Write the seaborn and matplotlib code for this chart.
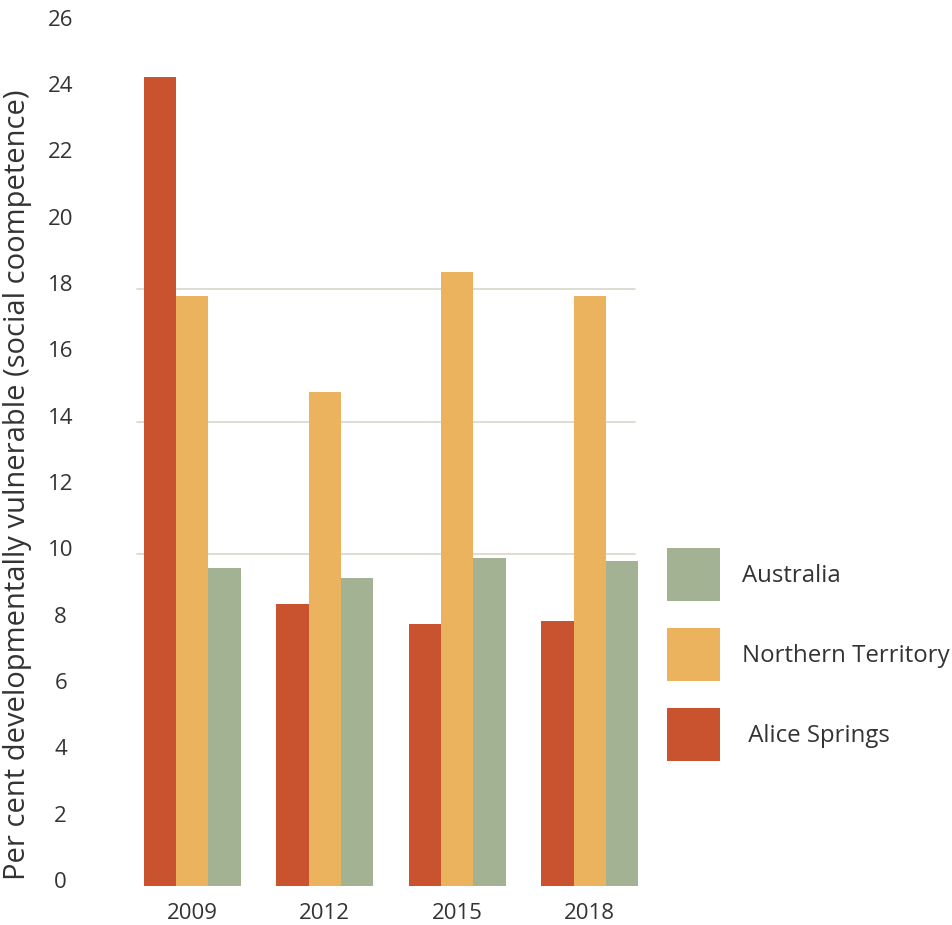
import matplotlib
matplotlib.use("Agg")
import matplotlib.pyplot as plt
import matplotlib.transforms as mtransforms
from matplotlib.patches import Patch
import pandas as pd
import seaborn as sns

# data
years = ["2009", "2012", "2015", "2018"]
alice_springs = [24.4, 8.5, 7.9, 8.0]
northern_territory = [17.8, 14.9, 18.5, 17.8]
australia = [9.6, 9.3, 9.9, 9.8]
series_names = ["Alice Springs", "Northern Territory", "Australia"]
y_ticks = list(range(0, 27, 2))
grid_values = [10, 14, 18]

colors = ["#C9522F", "#ECB35E", "#A4B294"]
text_color = "#333333"

df = pd.DataFrame({
    "year": years * 3,
    "region": [s for s in series_names for _ in years],
    "value": alice_springs + northern_territory + australia,
})

sns.set_theme(style="white")
plt.rcParams["font.family"] = ["Open Sans", "DejaVu Sans"]

fig = plt.figure(figsize=(9.53, 9.25), dpi=100)
W, H = 953, 925
# axes placed in pixel terms: x from 126 to 656, y from 886 (0) up to 26
ax = fig.add_axes([126 / W, (H - 886) / H, 530 / W, (886 - 23.6) / H])

sns.barplot(data=df, x="year", y="value", hue="region", order=years,
            hue_order=series_names, palette=colors, width=0.735,
            linewidth=0, saturation=1, legend=False, ax=ax, zorder=2)

for g in grid_values:
    ax.axhline(g, xmin=(137 - 126) / 530, xmax=(635 - 126) / 530,
               color="#D9D5CB", linewidth=1.2, zorder=0)

ax.set_xlim(-0.5, 3.5)
ax.set_ylim(0, 26)
ax.set_yticks(y_ticks)
ax.set_yticklabels([str(t) for t in y_ticks])
sns.despine(ax=ax, left=True, bottom=True)

ax.tick_params(axis="y", length=0, pad=47, labelsize=16, labelcolor=text_color)
ax.tick_params(axis="x", length=0, pad=12, labelsize=16, labelcolor=text_color)
offset = mtransforms.ScaledTranslation(0, 6 / 100, fig.dpi_scale_trans)
for lab in ax.get_yticklabels():
    lab.set_horizontalalignment("center")
    lab.set_transform(lab.get_transform() + offset)

ax.set_xlabel("")
ax.set_ylabel("")
fig.text(18 / W, 1 - 485 / H, "Per cent developmentally vulnerable (social coompetence)",
         rotation=90, ha="center", va="center", fontsize=21, color=text_color)

handles = [Patch(facecolor=c, edgecolor="none") for c in colors][::-1]
labels = ["Australia", "Northern Territory", " Alice Springs"]
fs = 17.3
fs_px = fs * 100 / 72
hh = (53 / fs_px - 0.245) / 0.65
ax.legend(handles, labels, loc="upper left",
          bbox_to_anchor=(667 / W, 1 - 548 / H), bbox_transform=fig.transFigure,
          frameon=False, fontsize=fs, handlelength=53 / fs_px, handleheight=hh,
          labelspacing=27 / fs_px, handletextpad=22 / fs_px, borderpad=0,
          borderaxespad=0, labelcolor=text_color)

fig.savefig("out.png", dpi=100)
